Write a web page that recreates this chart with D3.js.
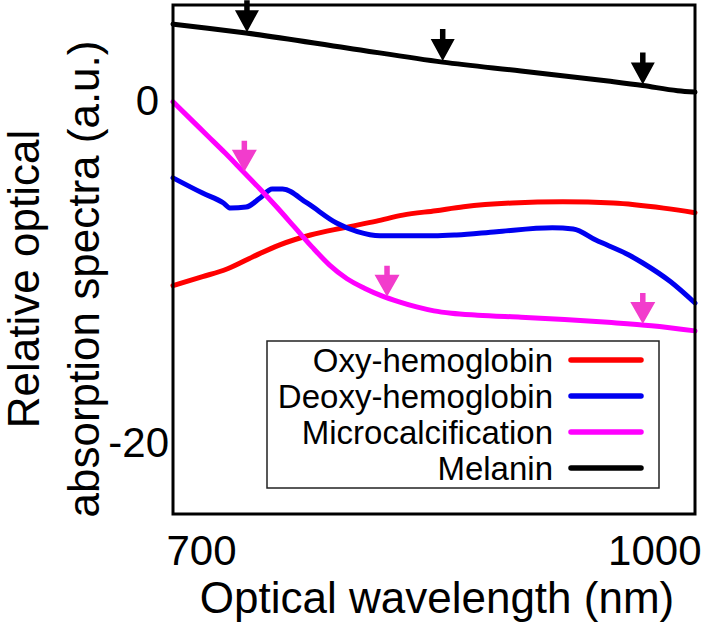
<!DOCTYPE html>
<html>
<head>
<meta charset="utf-8">
<script src="https://cdn.jsdelivr.net/npm/d3@7"></script>
<style>
  html, body { margin: 0; padding: 0; background: #fff; }
  svg { display: block; font-family: "Liberation Sans", Arial, Helvetica, sans-serif; }
</style>
</head>
<body>
<div id="chart"></div>
<script>
// ---- Data ----
const oxyWl  = [700, 717, 731, 746, 761, 779, 798, 817, 832, 851, 867, 895, 924, 953, 982, 1000];
const oxyVal = [-10.85, -10.33, -9.88, -9.16, -8.48, -7.89, -7.47, -7.08, -6.73, -6.47, -6.24, -6.02, -5.95, -6.02, -6.32, -6.59];

const deoxyWl  = [700, 717, 729, 733, 742, 750, 757, 763, 777, 794, 806, 819, 850, 863, 886, 918, 930, 943, 962, 970, 986, 1000];
const deoxyVal = [-4.55, -5.44, -6.02, -6.32, -6.26, -5.73, -5.2, -5.2, -6.02, -7.19, -7.7, -7.94, -7.94, -7.89, -7.7, -7.47, -7.54, -8.19, -9.06, -9.53, -10.63, -11.87];

const microWl  = [700, 710, 720, 730, 740, 750, 760, 770, 780, 790, 800, 810, 820, 830, 840, 850, 860, 875, 900, 925, 950, 975, 1000];
const microVal = [-0.1, -1.1, -2.1, -3.1, -4.15, -5.2, -6.3, -7.45, -8.6, -9.65, -10.45, -11.0, -11.45, -11.8, -12.1, -12.33, -12.47, -12.58, -12.7, -12.83, -13.0, -13.2, -13.5];

const melWl  = [700, 720, 742, 800, 855, 900, 950, 970, 990, 1000];
const melVal = [4.44, 4.2, 3.92, 3.05, 2.22, 1.70, 1.11, 0.85, 0.55, 0.47];

const melArrowWl   = [742.5, 855, 970];
const microArrowWl = [741, 823, 970];

const seriesNames  = ["Oxy-hemoglobin", "Deoxy-hemoglobin", "Microcalcification", "Melanin"];
const seriesColors = ["#ff0000", "#0000f0", "#ff00ff", "#000000"];

const xTicks = [700, 1000];
const yTicks = [0, -20];

const xTitle = "Optical wavelength (nm)";
const yTitleLines = ["Relative optical", "absorption spectra (a.u.)"];

// ---- Layout ----
const W = 707, H = 627;
const mLeft = 173, mRight = 695, mTop = 5, mBottom = 514;

const svg = d3.select("#chart").append("svg")
  .attr("width", W).attr("height", H);

const x = d3.scaleLinear().domain([700, 1000]).range([mLeft, mRight]);
const y = d3.scaleLinear().domain([-24.21, 5.56]).range([mBottom, mTop]);

const zip = (a, b) => a.map((w, i) => ({ wl: w, v: b[i] }));
const series = [
  zip(oxyWl, oxyVal),
  zip(deoxyWl, deoxyVal),
  zip(microWl, microVal),
  zip(melWl, melVal)
];

const line = d3.line().x(d => x(d.wl)).y(d => y(d.v)).curve(d3.curveMonotoneX);

// curves
svg.append("g").selectAll("path").data(series).join("path")
  .attr("d", line)
  .attr("fill", "none")
  .attr("stroke", (d, i) => seriesColors[i])
  .attr("stroke-width", 5)
  .attr("stroke-linejoin", "round")
  .attr("stroke-linecap", "round");

// frame
svg.append("rect")
  .attr("x", mLeft).attr("y", mTop)
  .attr("width", mRight - mLeft).attr("height", mBottom - mTop)
  .attr("fill", "none").attr("stroke", "#000").attr("stroke-width", 3);

// interpolate value on a series
function valueAt(wls, vals, w) {
  const i = Math.max(1, Math.min(wls.length - 1, d3.bisectLeft(wls, w)));
  const t = (w - wls[i - 1]) / (wls[i] - wls[i - 1]);
  return vals[i - 1] + t * (vals[i] - vals[i - 1]);
}

// arrow shape relative to the tip
function arrowPath(sw, hw, hh, len) {
  return `M${-sw/2},${-len} L${sw/2},${-len} L${sw/2},${-hh} L${hw/2},${-hh} L0,0 L${-hw/2},${-hh} L${-sw/2},${-hh} Z`;
}

svg.append("g").selectAll("path").data(melArrowWl).join("path")
  .attr("transform", w => `translate(${x(w)},${y(valueAt(melWl, melVal, w)) - 1})`)
  .attr("d", arrowPath(5.5, 24, 22, 32))
  .attr("fill", "#000");

svg.append("g").selectAll("path").data(microArrowWl).join("path")
  .attr("transform", w => `translate(${x(w)},${y(valueAt(microWl, microVal, w)) - 1})`)
  .attr("d", arrowPath(5.5, 25, 22, 31))
  .attr("fill", "#f23ccc");

// x axis labels
const xAxis = svg.append("g")
  .attr("transform", `translate(0,${mBottom})`)
  .call(d3.axisBottom(x).tickValues(xTicks).tickSize(0).tickFormat(d3.format("d")));
xAxis.select(".domain").remove();
xAxis.selectAll("text")
  .attr("y", 51).attr("dy", 0)
  .attr("font-size", 42)
  .attr("font-family", "Liberation Sans, Arial, sans-serif")
  .attr("fill", "#000")
  .attr("text-anchor", d => d === xTicks[0] ? "start" : "end")
  .attr("dx", d => d === xTicks[0] ? -7 : 6);

// y axis labels
const yAxis = svg.append("g")
  .attr("transform", `translate(${mLeft},0)`)
  .call(d3.axisLeft(y).tickValues(yTicks).tickSize(0).tickFormat(d3.format("d")));
yAxis.select(".domain").remove();
yAxis.selectAll("text")
  .attr("x", d => d === 0 ? -14 : -4)
  .attr("dy", "0.35em")
  .attr("font-size", 42)
  .attr("font-family", "Liberation Sans, Arial, sans-serif")
  .attr("fill", "#000")
  .attr("text-anchor", "end")
  .text(d => d === 0 ? "0" : "-20");

// axis titles
svg.append("text")
  .attr("x", 437).attr("y", 613)
  .attr("text-anchor", "middle")
  .attr("font-size", 44)
  .attr("fill", "#000")
  .text(xTitle);

const yt = svg.append("text")
  .attr("transform", "translate(0,279) rotate(-90)")
  .attr("text-anchor", "middle")
  .attr("font-size", 44)
  .attr("fill", "#000");
yt.selectAll("tspan").data(yTitleLines).join("tspan")
  .attr("x", 0)
  .attr("y", (d, i) => i === 0 ? 39 : 99)
  .text(d => d);

// legend
const lg = svg.append("g");
lg.append("rect")
  .attr("x", 267).attr("y", 341).attr("width", 392).attr("height", 147)
  .attr("fill", "#fff").attr("stroke", "#222").attr("stroke-width", 1.5);
const rows = lg.selectAll("g.row").data(seriesNames).join("g")
  .attr("class", "row")
  .attr("transform", (d, i) => `translate(0,${360 + i * 36})`);
rows.append("text")
  .attr("x", 553).attr("dy", "0.35em")
  .attr("text-anchor", "end")
  .attr("font-size", 33)
  .attr("fill", "#000")
  .text(d => d);
rows.append("line")
  .attr("x1", 571).attr("x2", 641)
  .attr("stroke", (d, i) => seriesColors[i])
  .attr("stroke-width", 5.5)
  .attr("stroke-linecap", "round");
</script>
</body>
</html>
